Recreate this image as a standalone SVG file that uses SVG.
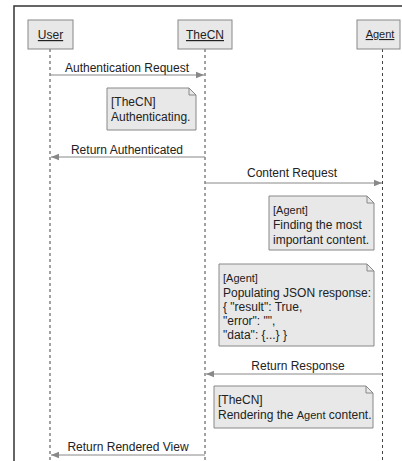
<svg xmlns="http://www.w3.org/2000/svg" width="402" height="461" viewBox="0 0 402 461">
<defs>
<style>
text{font-family:"Liberation Sans",Arial,sans-serif;font-size:12px;fill:#222}
.box{fill:#e8e8e8;stroke:#888;stroke-width:1}
.life{stroke:#444;stroke-width:1;stroke-dasharray:3,3;fill:none}
.msg{stroke:#888;stroke-width:1;fill:none}
.note{fill:#e8e8e8;stroke:#888;stroke-width:1}
.sm{font-size:11px}
</style>
<marker id="ah" viewBox="0 0 10 10" refX="10" refY="5" markerWidth="10" markerHeight="8" markerUnits="userSpaceOnUse" orient="auto">
<path d="M0,1 L10,5 L0,9 Z" fill="#888"/>
</marker>
</defs>
<rect width="402" height="461" fill="#fff"/>
<path d="M14,461 V6 H402" fill="none" stroke="#333" stroke-width="1.5"/>
<g id="lifelines">
<line class="life" x1="50" y1="49" x2="50" y2="461"/>
<line class="life" x1="205" y1="49" x2="205" y2="461"/>
<line class="life" x1="382.5" y1="49" x2="382.5" y2="461"/>
</g>
<g id="User">
<rect class="box" x="28" y="20" width="45" height="29"/>
<text x="50.5" y="39" text-anchor="middle" text-decoration="underline">User</text>
</g>
<g id="TheCN">
<rect class="box" x="178" y="20" width="54" height="29"/>
<text x="205" y="39" text-anchor="middle" text-decoration="underline">TheCN</text>
</g>
<g id="Agent">
<rect class="box" x="357" y="20" width="43" height="29"/>
<text class="sm" x="380" y="38" text-anchor="middle" text-decoration="underline">Agent</text>
</g>
<g id="connectors">
<line class="msg" x1="50" y1="75" x2="204" y2="75" marker-end="url(#ah)"/>
<text x="127" y="72" text-anchor="middle">Authentication Request</text>
<line class="msg" x1="205" y1="157" x2="51" y2="157" marker-end="url(#ah)"/>
<text x="127" y="154" text-anchor="middle">Return Authenticated</text>
<line class="msg" x1="205" y1="183" x2="382" y2="183" marker-end="url(#ah)"/>
<text x="292" y="177" text-anchor="middle">Content Request</text>
<line class="msg" x1="382" y1="374" x2="206" y2="374" marker-end="url(#ah)"/>
<text x="298" y="370" text-anchor="middle">Return Response</text>
<line class="msg" x1="205" y1="455" x2="51" y2="455" marker-end="url(#ah)"/>
<text x="128" y="451" text-anchor="middle">Return Rendered View</text>
</g>
<g id="note1">
<path class="note" d="M107,88 H189 L196,95 V130 H107 Z"/>
<path d="M189,88 V95 H196" fill="none" stroke="#888"/>
<text x="111" y="106">[TheCN]</text>
<text x="111" y="121">Authenticating.</text>
</g>
<g id="note2">
<path class="note" d="M269,196 H367 L374,203 V250 H269 Z"/>
<path d="M367,196 V203 H374" fill="none" stroke="#888"/>
<text class="sm" x="273" y="214">[Agent]</text>
<text x="273" y="229">Finding the most</text>
<text x="273" y="244">important content.</text>
</g>
<g id="note3">
<path class="note" d="M219,264 H367 L374,271 V346 H219 Z"/>
<path d="M367,264 V271 H374" fill="none" stroke="#888"/>
<text class="sm" x="223" y="282">[Agent]</text>
<text x="223" y="297">Populating JSON response:</text>
<text x="223" y="311">{ "result": True,</text>
<text x="223" y="325">"error": "",</text>
<text x="223" y="339">"data": {...} }</text>
</g>
<g id="note4">
<path class="note" d="M214,386 H366 L373,393 V428 H214 Z"/>
<path d="M366,386 V393 H373" fill="none" stroke="#888"/>
<text x="218" y="404">[TheCN]</text>
<text x="218" y="419">Rendering the <tspan class="sm">Agent</tspan> content.</text>
</g>
</svg>
